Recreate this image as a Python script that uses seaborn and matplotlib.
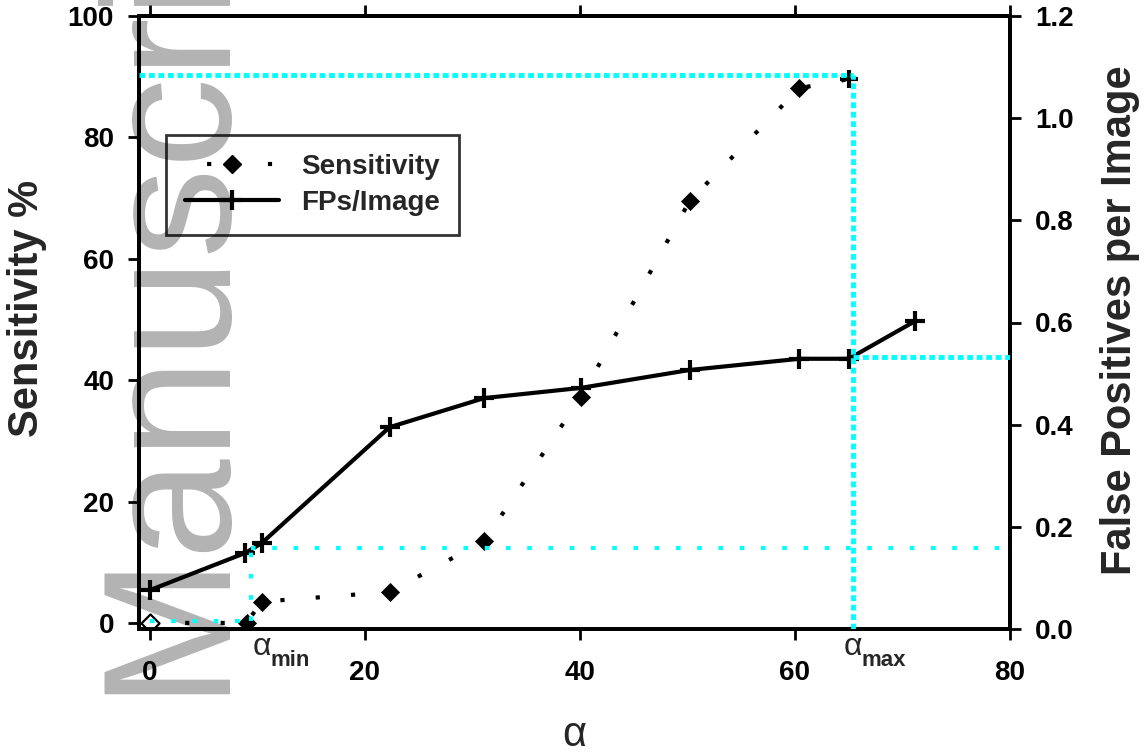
import matplotlib
matplotlib.use("Agg")
import matplotlib.pyplot as plt
from matplotlib.lines import Line2D
from matplotlib.transforms import blended_transform_factory
import seaborn as sns

# Detection threshold alpha and the resulting sensitivity / false positive rate
alpha_sens = [0, 9.0, 10.4, 22.3, 31.1, 40.1, 50.2, 60.4, 65.0]
sensitivity = [0, 0, 3.5, 5.1, 13.5, 37.2, 69.5, 88.1, 89.6]
alpha_fp = [0, 8.9, 10.4, 22.3, 31.1, 40.1, 50.2, 60.4, 65.0, 71.2]
fps_per_image = [0.076, 0.149, 0.168, 0.395, 0.452, 0.472, 0.507, 0.529, 0.529, 0.603]

# Operating range of alpha and the values reached at its ends
alpha_min, alpha_max = 9.4, 65.4
sens_at_min, sens_at_max = 0.4, 90.3
fp_at_min, fp_at_max = 0.158, 0.532

x_ticks = [0, 20, 40, 60, 80]
sens_ticks = [0, 20, 40, 60, 80, 100]
fp_ticks = [0.0, 0.2, 0.4, 0.6, 0.8, 1.0, 1.2]
fp_tick_labels = ["0.0", "0.2", "0.4", "0.6", "0.8", "1.0", "1.2"]

x_lim = (-1, 80)
sens_lim = (-1, 100)
fp_lim = (0, 1.2)

sns.set_theme(style="ticks")
plt.rcParams["font.family"] = ["Liberation Sans", "DejaVu Sans"]
plt.rcParams["font.weight"] = "bold"

W, H = 1146, 756
fig = plt.figure(figsize=(W / 100, H / 100), dpi=100)
ax = fig.add_axes([139 / W, 1 - 629 / H, (1010 - 139) / W, (629 - 16) / H])
ax.set_facecolor("none")
ax2 = ax.twinx()

# Grey "Manuscript" stamp running up the left edge, behind the plot
fig.text(216 / W, 1 - 694 / H, "Manuscript", rotation=90, rotation_mode="anchor",
         ha="left", va="baseline", fontsize=130, color="#b3b3b3",
         fontweight="normal", family="Liberation Sans", zorder=-1)

ax.set_xlim(*x_lim)
ax.set_ylim(*sens_lim)
ax2.set_ylim(*fp_lim)

# Sensitivity: dotted line with diamond markers (first point open)
sns.lineplot(x=alpha_sens, y=sensitivity, ax=ax, color="black", lw=3,
             linestyle=(0, (1, 7.5)), zorder=2)
sns.scatterplot(x=alpha_sens[1:-1], y=sensitivity[1:-1], ax=ax, marker="D", s=85,
                color="black", edgecolor="black", linewidth=0.5, zorder=3)
sns.scatterplot(x=alpha_sens[:1], y=sensitivity[:1], ax=ax, marker="D", s=85,
                color="white", edgecolor="black", linewidth=1.6, zorder=3)
sns.scatterplot(x=alpha_sens[-1:], y=sensitivity[-1:], ax=ax, marker="+", s=150,
                color="black", linewidth=3, zorder=3)

# False positives per image: solid line with plus markers
sns.lineplot(x=alpha_fp, y=fps_per_image, ax=ax2, color="black", lw=3,
             marker="+", markersize=14, markeredgewidth=3,
             markeredgecolor="black", zorder=2)


def sens_to_fp(v):
    return (v - sens_lim[0]) / (sens_lim[1] - sens_lim[0]) * (fp_lim[1] - fp_lim[0]) + fp_lim[0]


cyan = "#00ffff"
sparse = dict(color=cyan, lw=3, linestyle=(0, (1.1, 4.0)), zorder=5)
dense = dict(color=cyan, lw=3.5, linestyle=(0, (1.2, 0.75)), zorder=5)

# alpha_min guides
ax2.plot([0, alpha_min], [sens_to_fp(sens_at_min)] * 2, **sparse)
ax2.plot([alpha_min, alpha_min], [sens_to_fp(sens_at_min), fp_at_min], **sparse)
ax2.plot([alpha_min, x_lim[1]], [fp_at_min] * 2, **sparse)
# alpha_max guides
ax2.plot([x_lim[0], alpha_max], [sens_to_fp(sens_at_max)] * 2, **dense)
ax2.plot([alpha_max, alpha_max], [fp_lim[0], sens_to_fp(sens_at_max)], **dense)
ax2.plot([alpha_max, x_lim[1]], [fp_at_max] * 2, **dense)

# Axes, ticks and labels
ax.set_xticks(x_ticks)
ax.set_xticklabels([str(t) for t in x_ticks])
ax.set_yticks(sens_ticks)
ax.set_yticklabels([str(t) for t in sens_ticks])
ax2.set_yticks(fp_ticks)
ax2.set_yticklabels(fp_tick_labels)

ax.tick_params(axis="x", which="major", bottom=True, top=True, direction="out",
               length=8, width=2, labelsize=20, pad=14, colors="black")
ax.tick_params(axis="y", which="major", left=True, right=False, direction="out",
               length=8, width=2, labelsize=20, pad=10, colors="black")
ax2.tick_params(axis="y", which="major", right=True, direction="out",
                length=8, width=2, labelsize=20, pad=10, colors="black")

for a in (ax, ax2):
    for sp in a.spines.values():
        sp.set_visible(True)
        sp.set_linewidth(2.8)
        sp.set_color("black")

ax.set_xlabel("α", fontsize=30, fontweight="normal")
ax.xaxis.set_label_coords(0.5, (629 - 735) / 613)
ax.xaxis.label.set_va("center")

ax.set_ylabel("Sensitivity %", fontsize=30, fontweight="bold")
ax.yaxis.set_label_coords((27 - 139) / 871, (629 - 308) / 613)
ax.yaxis.label.set_va("center")

ax2.set_ylabel("False Positives per Image", fontsize=30, fontweight="bold")
ax2.yaxis.set_label_coords((1120 - 139) / 871, (629 - 320) / 613)
ax2.yaxis.label.set_va("center")

# alpha_min / alpha_max markers under the x axis
trans = blended_transform_factory(ax.transData, ax.transAxes)
for a_val, sub, dx in ((alpha_min, "min", 1), (alpha_max, "max", -7)):
    ax.annotate("α", xy=(a_val, 0), xycoords=trans, xytext=(dx, -13),
                textcoords="offset points", ha="left", va="center",
                fontsize=23, fontweight="normal", annotation_clip=False)
    ax.annotate(sub, xy=(a_val, 0), xycoords=trans, xytext=(dx + 13, -23),
                textcoords="offset points", ha="left", va="center",
                fontsize=16, fontweight="bold", annotation_clip=False)

# Legend
handles = [
    Line2D([], [], color="black", lw=3, linestyle=(9.3, (1, 13.6)), marker="D",
           markersize=9, markerfacecolor="black", markeredgecolor="black"),
    Line2D([], [], color="black", lw=3, marker="+", markersize=14,
           markeredgewidth=3, markeredgecolor="black"),
]
leg = ax2.legend(handles, ["Sensitivity", "FPs/Image"], loc="upper left",
                 bbox_to_anchor=(0.031, 0.806), borderaxespad=0, frameon=True,
                 fancybox=False, edgecolor="black", facecolor="none",
                 prop=dict(weight="bold", size=20), handlelength=3.4,
                 handletextpad=0.8, labelspacing=0.38, borderpad=0.67)
leg.get_frame().set_linewidth(2)
leg.set_zorder(10)

fig.savefig("out.png", dpi=100)
